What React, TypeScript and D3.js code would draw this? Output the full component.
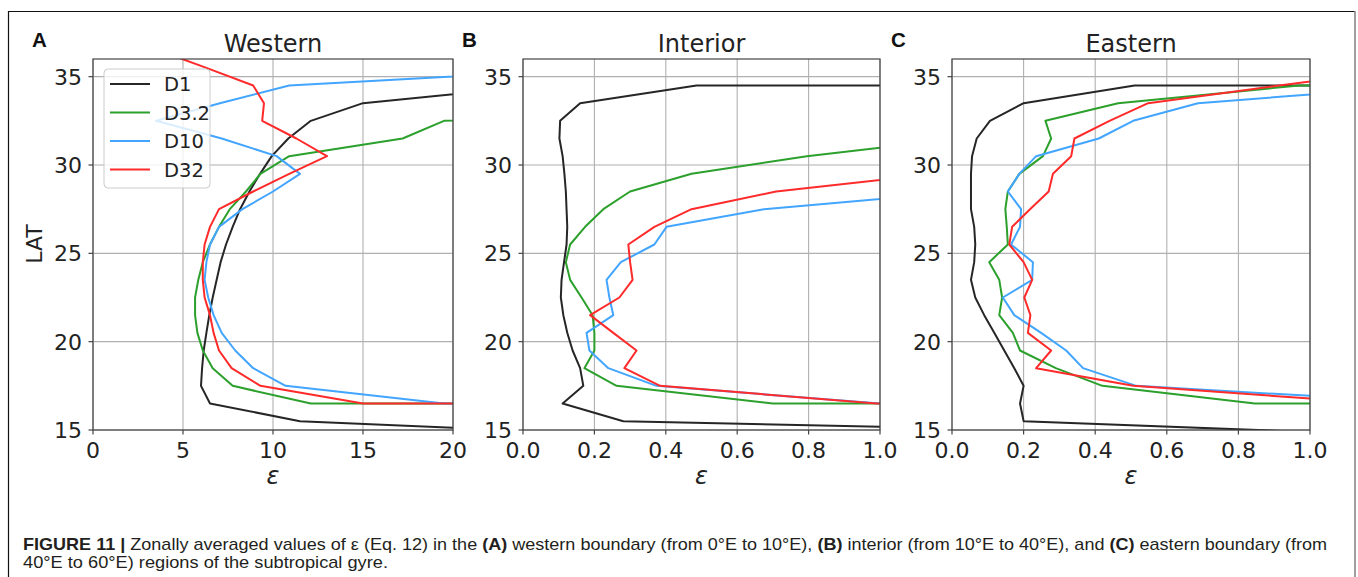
import React from 'react';
import * as d3 from 'd3';

// [epsilon, latitude] pairs; values beyond the axes are clipped
const westD1 = [[60, 34.5], [25, 34.5], [15.0, 33.5], [12.1, 32.5], [10.85, 31.5], [9.93, 30.5], [9.28, 29.5], [8.69, 28.5], [8.17, 27.5], [7.76, 26.5], [7.39, 25.5], [7.09, 24.5], [6.87, 23.5], [6.65, 22.5], [6.46, 21.5], [6.3, 20.5], [6.15, 19.5], [6.06, 18.5], [6.0, 17.5], [6.5, 16.5], [11.5, 15.5], [34, 14.5]];
const westD3 = [[40, 33.5], [19.5, 32.5], [17.2, 31.5], [10.9, 30.5], [9.3, 29.5], [8.5, 28.5], [7.6, 27.5], [7.0, 26.5], [6.5, 25.5], [6.1, 24.5], [5.85, 23.5], [5.67, 22.5], [5.67, 21.5], [5.8, 20.5], [6.1, 19.5], [6.65, 18.5], [7.76, 17.5], [12.1, 16.5], [60, 16.5]];
const westD10 = [[29, 35.5], [10.9, 34.5], [7.05, 33.5], [3.5, 32.5], [7.15, 31.5], [10.2, 30.5], [11.5, 29.5], [10.0, 28.5], [8.3, 27.5], [7.0, 26.5], [6.5, 25.5], [6.3, 24.5], [6.2, 23.5], [6.4, 22.5], [6.7, 21.5], [7.15, 20.5], [7.9, 19.5], [8.9, 18.5], [10.7, 17.5], [19.5, 16.5], [60, 16.5]];
const westD32 = [[3.6, 36.5], [6.3, 35.5], [8.9, 34.5], [9.5, 33.5], [9.4, 32.5], [11.3, 31.5], [13.0, 30.5], [10.9, 29.5], [8.9, 28.5], [7.0, 27.5], [6.5, 26.5], [6.2, 25.5], [6.1, 24.5], [6.1, 23.5], [6.2, 22.5], [6.5, 21.5], [6.7, 20.5], [7.0, 19.5], [7.7, 18.5], [9.3, 17.5], [15.0, 16.5], [60, 16.5]];

const intD1 = [[3, 34.5], [0.486, 34.5], [0.16, 33.5], [0.104, 32.5], [0.102, 31.5], [0.111, 30.5], [0.116, 29.5], [0.12, 28.5], [0.122, 27.5], [0.124, 26.5], [0.122, 25.5], [0.115, 24.5], [0.108, 23.5], [0.106, 22.5], [0.113, 21.5], [0.124, 20.5], [0.139, 19.5], [0.16, 18.5], [0.169, 17.5], [0.111, 16.5], [0.281, 15.5], [2.6, 14.5]];
const intD3 = [[1.23, 31.5], [0.795, 30.5], [0.472, 29.5], [0.30, 28.5], [0.225, 27.5], [0.174, 26.5], [0.132, 25.5], [0.12, 24.5], [0.132, 23.5], [0.164, 22.5], [0.195, 21.5], [0.2, 20.5], [0.2, 19.5], [0.172, 18.5], [0.262, 17.5], [0.70, 16.5], [3, 16.5]];
const intD10 = [[1.245, 28.5], [0.675, 27.5], [0.402, 26.5], [0.368, 25.5], [0.274, 24.5], [0.234, 23.5], [0.242, 22.5], [0.253, 21.5], [0.178, 20.5], [0.186, 19.5], [0.239, 18.5], [0.374, 17.5], [1.0, 16.5], [3, 16.5]];
const intD32 = [[1.155, 29.5], [0.709, 28.5], [0.472, 27.5], [0.368, 26.5], [0.295, 25.5], [0.30, 24.5], [0.307, 23.5], [0.27, 22.5], [0.188, 21.5], [0.253, 20.5], [0.318, 19.5], [0.284, 18.5], [0.384, 17.5], [0.99, 16.5], [3, 16.5]];

const eastD1 = [[3, 34.5], [0.51, 34.5], [0.2, 33.5], [0.106, 32.5], [0.069, 31.5], [0.056, 30.5], [0.053, 29.5], [0.053, 28.5], [0.053, 27.5], [0.062, 26.5], [0.065, 25.5], [0.062, 24.5], [0.053, 23.5], [0.065, 22.5], [0.09, 21.5], [0.118, 20.5], [0.146, 19.5], [0.174, 18.5], [0.2, 17.5], [0.19, 16.5], [0.2, 15.5], [1.5, 14.5]];
const eastD3 = [[3, 34.5], [0.97, 34.5], [0.464, 33.5], [0.261, 32.5], [0.277, 31.5], [0.254, 30.5], [0.188, 29.5], [0.156, 28.5], [0.149, 27.5], [0.153, 26.5], [0.156, 25.5], [0.104, 24.5], [0.132, 23.5], [0.14, 22.5], [0.132, 21.5], [0.17, 20.5], [0.19, 19.5], [0.29, 18.5], [0.42, 17.5], [0.846, 16.5], [3, 16.5]];
const eastD10 = [[1.32, 34.5], [0.687, 33.5], [0.506, 32.5], [0.41, 31.5], [0.235, 30.5], [0.188, 29.5], [0.156, 28.5], [0.193, 27.5], [0.19, 26.5], [0.165, 25.5], [0.226, 24.5], [0.224, 23.5], [0.142, 22.5], [0.174, 21.5], [0.249, 20.5], [0.319, 19.5], [0.366, 18.5], [0.515, 17.5], [1.37, 16.5]];
const eastD32 = [[1.29, 35.5], [0.914, 34.5], [0.548, 33.5], [0.44, 32.5], [0.342, 31.5], [0.333, 30.5], [0.282, 29.5], [0.27, 28.5], [0.218, 27.5], [0.168, 26.5], [0.16, 25.5], [0.2, 24.5], [0.224, 23.5], [0.202, 22.5], [0.219, 21.5], [0.212, 20.5], [0.277, 19.5], [0.235, 18.5], [0.506, 17.5], [1.19, 16.5]];

const seriesNames = ['D1', 'D3.2', 'D10', 'D32'];
const seriesColors = ['#262626', '#2ca02c', '#42a5ff', '#ff2a2a'];
const latTicks = [15, 20, 25, 30, 35];
const westTicks = [0, 5, 10, 15, 20];
const unitTicks = [0, 0.2, 0.4, 0.6, 0.8, 1.0];

const TOP = 59;
const BOTTOM = 430;
const tickFont = 'DejaVu Sans, sans-serif';

const panels = [
  { letter: 'A', title: 'Western', left: 93, right: 453, domain: [0, 20], ticks: westTicks, fmt: d3.format('d'), data: [westD1, westD3, westD10, westD32] },
  { letter: 'B', title: 'Interior', left: 523, right: 880, domain: [0, 1], ticks: unitTicks, fmt: d3.format('.1f'), data: [intD1, intD3, intD10, intD32] },
  { letter: 'C', title: 'Eastern', left: 952, right: 1310, domain: [0, 1], ticks: unitTicks, fmt: d3.format('.1f'), data: [eastD1, eastD3, eastD10, eastD32] },
];

const y = d3.scaleLinear().domain([15, 36]).range([BOTTOM, TOP]);

function Panel({ p, idx }) {
  const x = d3.scaleLinear().domain(p.domain).range([p.left, p.right]);
  const line = d3.line().x(d => x(d[0])).y(d => y(d[1]));
  const mid = (p.left + p.right) / 2;
  const clipId = `clip-${idx}`;
  return (
    <g>
      <defs>
        <clipPath id={clipId}>
          <rect x={p.left} y={TOP} width={p.right - p.left} height={BOTTOM - TOP} />
        </clipPath>
      </defs>
      {/* grid */}
      {p.ticks.map(t => (
        <line key={'gx' + t} x1={x(t)} x2={x(t)} y1={TOP} y2={BOTTOM} stroke="#b0b0b0" strokeWidth={1.1} />
      ))}
      {latTicks.map(t => (
        <line key={'gy' + t} x1={p.left} x2={p.right} y1={y(t)} y2={y(t)} stroke="#b0b0b0" strokeWidth={1.1} />
      ))}
      {/* lines */}
      <g clipPath={`url(#${clipId})`}>
        {p.data.map((s, i) => (
          <path key={i} d={line(s)} fill="none" stroke={seriesColors[i]} strokeWidth={2} strokeLinejoin="round" />
        ))}
      </g>
      {/* spines */}
      <rect x={p.left} y={TOP} width={p.right - p.left} height={BOTTOM - TOP} fill="none" stroke="#444" strokeWidth={1.2} />
      {/* ticks */}
      {p.ticks.map(t => (
        <g key={'tx' + t}>
          <line x1={x(t)} x2={x(t)} y1={BOTTOM} y2={BOTTOM + 4.5} stroke="#444" strokeWidth={1.2} />
          <text x={x(t)} y={458} textAnchor="middle" fontFamily={tickFont} fontSize={22} fill="#222">{p.fmt(t)}</text>
        </g>
      ))}
      {latTicks.map(t => (
        <g key={'ty' + t}>
          <line x1={p.left - 4.5} x2={p.left} y1={y(t)} y2={y(t)} stroke="#444" strokeWidth={1.2} />
          <text x={p.left - 11} y={y(t) + 8} textAnchor="end" fontFamily={tickFont} fontSize={22} fill="#222">{t}</text>
        </g>
      ))}
      <text x={mid} y={52} textAnchor="middle" fontFamily={tickFont} fontSize={24} fill="#222">{p.title}</text>
      <text x={mid} y={484} textAnchor="middle" fontFamily={tickFont} fontStyle="italic" fontSize={24} fill="#222">ε</text>
      <text x={p.left - 61} y={47} fontFamily="Liberation Sans, Arial, sans-serif" fontWeight="bold" fontSize={20.5} fill="#111">{p.letter}</text>
    </g>
  );
}

function Legend() {
  const lx = 104, ly = 69;
  return (
    <g>
      <rect x={lx} y={ly} width={106} height={119} rx={4} fill="#fff" fillOpacity={0.8} stroke="#cccccc" strokeWidth={1} />
      {seriesNames.map((n, i) => (
        <g key={n}>
          <line x1={110} x2={150} y1={84 + i * 28.5} y2={84 + i * 28.5} stroke={seriesColors[i]} strokeWidth={2} />
          <text x={164} y={84 + i * 28.5 + 7} fontFamily={tickFont} fontSize={19.5} fill="#222">{n}</text>
        </g>
      ))}
    </g>
  );
}

export default function App() {
  const capFont = 'Liberation Sans, Arial, Helvetica, sans-serif';
  return (
    <svg width={1358} height={577} style={{ position: 'absolute', left: 0, top: 0, background: '#fff' }}>
      <rect x={0} y={0} width={1358} height={577} fill="#fff" />
      {/* frame */}
      <line x1={8} x2={1355} y1={11.5} y2={11.5} stroke="#111" strokeWidth={1.2} />
      <line x1={8.5} x2={8.5} y1={11} y2={577} stroke="#111" strokeWidth={1.2} />
      <line x1={1355} x2={1355} y1={11} y2={577} stroke="#888" strokeWidth={1.6} />
      {panels.map((p, i) => <Panel key={p.letter} p={p} idx={i} />)}
      <Legend />
      <text x={42} y={244} transform="rotate(-90 42 244)" textAnchor="middle" fontFamily={tickFont} fontSize={22} fill="#222">LAT</text>
      <text x={23} y={550} fontFamily={capFont} fontSize={17} fill="#231f20" textLength={1304} lengthAdjust="spacingAndGlyphs">
        <tspan fontWeight="bold">FIGURE 11 | </tspan>
        <tspan>Zonally averaged values of ε (Eq. 12) in the </tspan>
        <tspan fontWeight="bold">(A)</tspan>
        <tspan> western boundary (from 0°E to 10°E), </tspan>
        <tspan fontWeight="bold">(B)</tspan>
        <tspan> interior (from 10°E to 40°E), and </tspan>
        <tspan fontWeight="bold">(C)</tspan>
        <tspan> eastern boundary (from</tspan>
      </text>
      <text x={23} y={568} fontFamily={capFont} fontSize={17} fill="#231f20" textLength={365} lengthAdjust="spacingAndGlyphs">40°E to 60°E) regions of the subtropical gyre.</text>
    </svg>
  );
}
